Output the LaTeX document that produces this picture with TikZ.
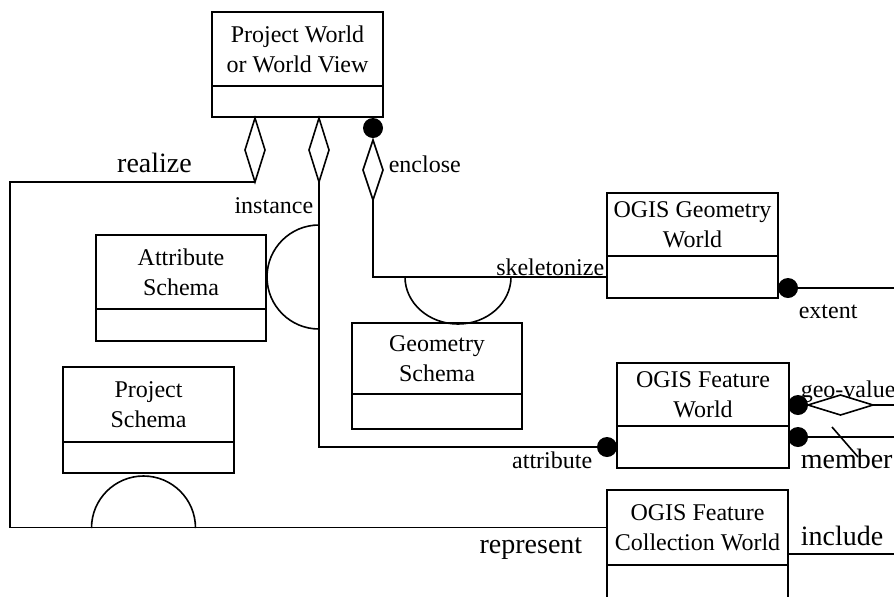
\documentclass[tikz,border=0pt]{standalone}
\usepackage{fontspec}
\setmainfont{Liberation Serif}
\usetikzlibrary{positioning,shapes.geometric}

\tikzset{
  cls/.style={draw, outer sep=0pt, inner sep=1pt, align=center, anchor=north west,
    font=\fontsize{12}{15}\selectfont},
  clsb/.style={draw, outer sep=0pt, inner sep=0pt},
  agg/.style={draw, diamond, outer sep=0pt, inner sep=0pt, minimum width=10pt, minimum height=32pt},
  dot/.style={circle, fill, outer sep=0pt, inner sep=0pt, minimum size=10pt},
  lbl/.style={inner sep=0pt, font=\fontsize{12}{14}\selectfont},
  biglbl/.style={inner sep=0pt, font=\fontsize{14}{16}\selectfont}
}

\begin{document}
\begin{tikzpicture}[x=0.5pt,y=0.5pt,line width=0.8pt]
	\clip (0,0) rectangle (894,-596);
	% classes
	\node[cls, minimum width=85.5pt, minimum height=37pt] (pw) at (212,-12) {Project World\\or World View};
	\node[clsb, minimum width=85.5pt, minimum height=15.5pt, below=0pt of pw] (pwb) {};
	\node[cls, minimum width=85pt, minimum height=37pt] (as) at (96,-235) {Attribute\\Schema};
	\node[clsb, minimum width=85pt, minimum height=16pt, below=0pt of as] (asb) {};
	\node[cls, minimum width=85pt, minimum height=35.5pt] (gs) at (352,-323) {Geometry\\Schema};
	\node[clsb, minimum width=85pt, minimum height=17.5pt, below=0pt of gs] (gsb) {};
	\node[cls, minimum width=85.5pt, minimum height=37.5pt] (ps) at (63,-367) {Project\\Schema};
	\node[clsb, minimum width=85.5pt, minimum height=15.5pt, below=0pt of ps] (psb) {};
	\node[cls, minimum width=85.5pt, minimum height=31.5pt] (gw) at (607,-193) {OGIS Geometry\\World};
	\node[clsb, minimum width=85.5pt, minimum height=21pt, below=0pt of gw] (gwb) {};
	\node[cls, minimum width=86pt, minimum height=31.5pt] (fw) at (617,-363) {OGIS Feature\\World};
	\node[clsb, minimum width=86pt, minimum height=21pt, below=0pt of fw] (fwb) {};
	\node[cls, minimum width=90.5pt, minimum height=37.5pt] (fcw) at (607,-490) {OGIS Feature\\Collection World};
	\node[clsb, minimum width=90.5pt, minimum height=21pt, below=0pt of fcw] (fcwb) {};

	% ends of the associations
	\node[agg] (d1) at (255,-150) {};
	\node[agg] (d2) at (319,-150) {};
	\node[dot] (c3) at (373,-128) {};
	\node[agg, minimum height=30pt] (d3) at (373,-170) {};
	\node[dot, anchor=east] (ca) at (fwb.west) {};
	\node[dot] (ce) at (788,-288) {};
	\node[dot] (cg) at (798,-405) {};
	\node[agg, minimum width=32.5pt, minimum height=10pt] (dg) at (840.5,-405) {};
	\node[dot] (cm) at (798,-437) {};
	\coordinate (rc) at (10,-182);
	\coordinate (ee) at (894,-288);
	\coordinate (eg) at (894,-405);
	\coordinate (em) at (894,-437);
	\coordinate (ei) at (894,-554);
	\coordinate (s1) at (832,-427);
	\coordinate (s2) at (858,-457);

	\draw (d1.south) -- (rc) |- (fcw.west);
	\draw (d2.south) |- (ca.west);
	\draw (d3.south) |- (gwb.west);
	\draw (ce) -- (ee);
	\draw (dg.east) -- (eg);
	\draw (cm) -- (em);
	\draw (s1) -- (s2);
	\draw (fcw.east |- ei) -- (ei);

	% half circles
	\draw (319,-225) arc[start angle=90, end angle=270, radius=26pt];
	\draw (405,-277) arc[start angle=180, end angle=360, x radius=26.5pt, y radius=23.5pt];
	\draw (91.5,-528) arc[start angle=180, end angle=0, radius=26pt];

	% labels
	\node[biglbl, anchor=base] (lr) at (154.5,-172) {realize};
	\node[lbl, anchor=base east] (li) at (314,-213) {instance};
	\node[lbl, anchor=base west] (ln) at (388,-172) {enclose};
	\node[lbl, anchor=base east] (lk) at (605,-275) {skeletonize};
	\node[lbl, anchor=base west] (lx) at (798,-318) {extent};
	\node[lbl, anchor=base east] (lt) at (593,-468) {attribute};
	\node[lbl, anchor=base west] (lg) at (800,-397) {geo-value};
	\node[biglbl, anchor=base west] (lm) at (800,-468) {member};
	\node[biglbl, anchor=base west] (lc) at (800,-545) {include};
	\node[biglbl, anchor=base east] (lp) at (583,-553) {represent};
\end{tikzpicture}
\end{document}
